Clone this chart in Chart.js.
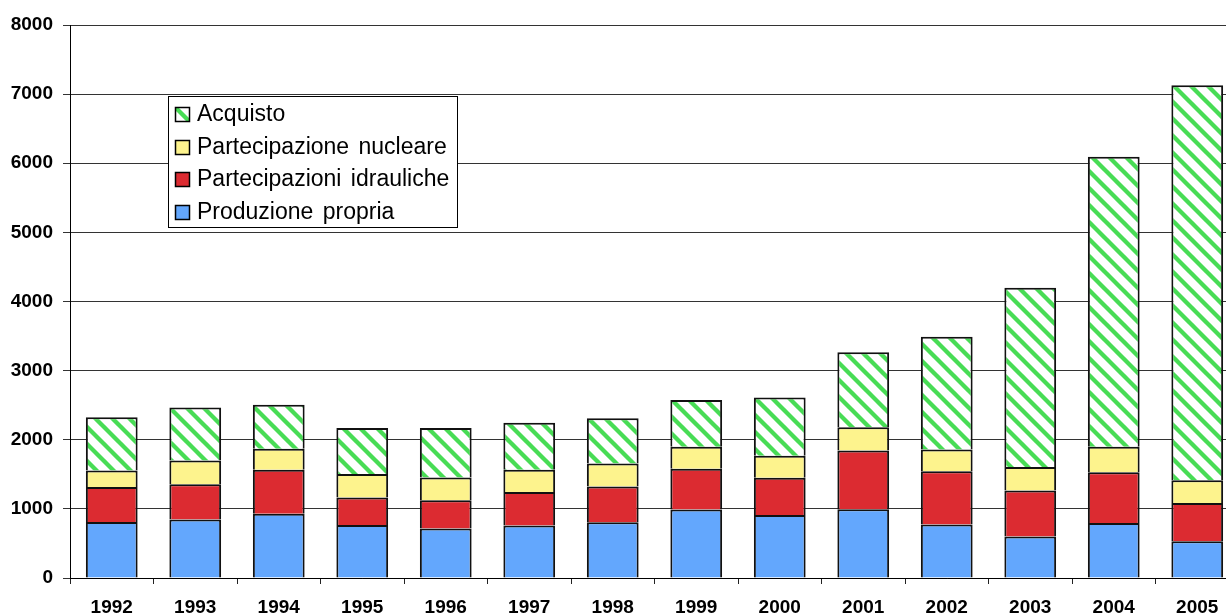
<!DOCTYPE html>
<html lang="it">
<head>
<meta charset="utf-8">
<title>Approvvigionamento energia 1992-2005</title>
<script src="https://cdn.jsdelivr.net/npm/chart.js@4/dist/chart.umd.min.js"></script>
<style>
  html, body { margin: 0; padding: 0; background: #fff; overflow: hidden; }
  #wrap { width: 1226px; height: 614px; overflow: hidden; }
  canvas { display: block; }
</style>
</head>
<body>
<div id="wrap"><canvas id="chart" width="1240" height="614"></canvas></div>
<script>
// Anni e quantità (per fonte), impilate dal basso verso l'alto
const years = ['1992', '1993', '1994', '1995', '1996', '1997', '1998', '1999', '2000', '2001', '2002', '2003', '2004', '2005'];
const produzionePropria        = [810, 845, 930, 765, 715, 760, 805, 990, 910, 995, 775, 600, 795, 530];
const partecipazioniIdrauliche = [505, 510, 635, 400, 410, 485, 520, 590, 540, 850, 770, 665, 735, 555];
const partecipazioneNucleare   = [240, 345, 305, 340, 330, 320, 330, 320, 320, 335, 315, 340, 370, 330];
const acquisto                 = [770, 765, 635, 665, 715, 680, 655, 675, 840, 1085, 1630, 2595, 4195, 5715];
const yTicks = [0, 1000, 2000, 3000, 4000, 5000, 6000, 7000, 8000];

// Tratteggio diagonale verde per gli acquisti
function makeHatch() {
  const p = 17;
  const c = document.createElement('canvas');
  c.width = p; c.height = p;
  const g = c.getContext('2d');
  g.fillStyle = '#ffffff';
  g.fillRect(0, 0, p, p);
  g.strokeStyle = '#48dc55';
  g.lineWidth = 4.3;
  for (const k of [-p, 0, p]) {
    g.beginPath();
    g.moveTo(-2, -2 + k);
    g.lineTo(p + 2, p + 2 + k);
    g.stroke();
  }
  return g.createPattern(c, 'repeat');
}
const hatch = makeHatch();

const tickFont = { family: 'Arial, "Liberation Sans", sans-serif', size: 19, weight: 'bold' };

// Riquadro della legenda disegnato nell'area del grafico
const boxLegend = {
  id: 'boxLegend',
  afterDraw(chart) {
    const ctx = chart.ctx;
    const x = 168.5, y = 96.5, w = 289, h = 131;
    ctx.save();
    ctx.fillStyle = '#fff';
    ctx.fillRect(x, y, w, h);
    ctx.strokeStyle = '#000';
    ctx.lineWidth = 1;
    ctx.strokeRect(x, y, w, h);
    const items = chart.data.datasets.slice().reverse();
    const rowStart = 114, rowStep = 32.5;
    ctx.font = '23px Arial, "Liberation Sans", sans-serif';
    ctx.textBaseline = 'middle';
    if ('wordSpacing' in ctx) ctx.wordSpacing = '3px';
    items.forEach((ds, i) => {
      const cy = rowStart + i * rowStep;
      ctx.fillStyle = ds.backgroundColor;
      ctx.fillRect(175, Math.round(cy - 7), 14, 14);
      ctx.strokeStyle = '#000';
      ctx.lineWidth = 1.5;
      ctx.strokeRect(175.5, Math.round(cy - 7) + 0.5, 14, 14);
      ctx.fillStyle = '#000';
      ctx.fillText(ds.label, 197, cy + 1);
    });
    ctx.restore();
  }
};

const barStyle = { borderColor: '#111', borderWidth: 2, categoryPercentage: 1, barPercentage: 0.62 };

new Chart(document.getElementById('chart'), {
  type: 'bar',
  data: {
    labels: years,
    datasets: [
      { label: 'Produzione propria', data: produzionePropria, backgroundColor: '#63a7fd', ...barStyle },
      { label: 'Partecipazioni idrauliche', data: partecipazioniIdrauliche, backgroundColor: '#dc2b31', ...barStyle },
      { label: 'Partecipazione nucleare', data: partecipazioneNucleare, backgroundColor: '#fdf38d', ...barStyle },
      { label: 'Acquisto', data: acquisto, backgroundColor: hatch, ...barStyle }
    ]
  },
  options: {
    responsive: false,
    animation: false,
    layout: { padding: { top: 25, right: 1, bottom: 0, left: 0 } },
    plugins: { legend: { display: false }, tooltip: { enabled: false } },
    scales: {
      x: {
        stacked: true,
        grid: { drawOnChartArea: false, drawTicks: true, tickLength: 6, color: '#222', offset: true },
        border: { color: '#000', width: 1 },
        ticks: { font: tickFont, color: '#000', padding: 12, maxRotation: 0 },
        afterFit(s) { s.height = 36; }
      },
      y: {
        stacked: true,
        min: 0,
        max: 8000,
        afterBuildTicks(s) { s.ticks = yTicks.map(v => ({ value: v })); },
        grid: { color: '#333', tickLength: 7 },
        border: { color: '#000', width: 1 },
        ticks: { font: tickFont, color: '#000', padding: 10, callback: v => String(v) },
        afterFit(s) { s.width = 70; }
      }
    }
  },
  plugins: [boxLegend]
});
</script>
</body>
</html>
